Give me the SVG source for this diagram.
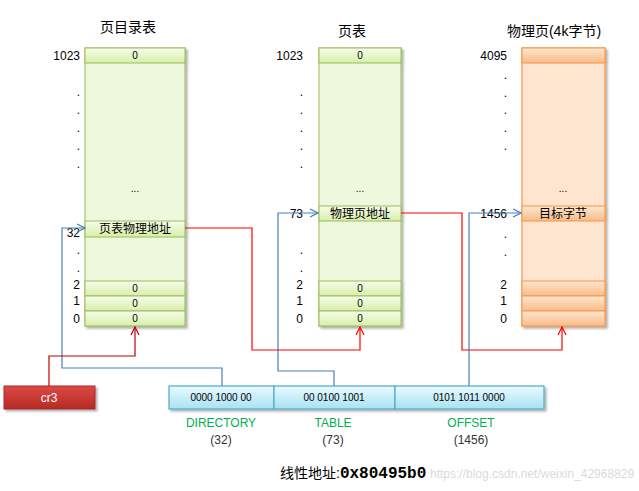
<svg xmlns="http://www.w3.org/2000/svg" width="639" height="491" viewBox="0 0 639 491">
<style>
text{font-family:"Liberation Sans","Noto Sans CJK SC",sans-serif;fill:#000}
.t{font-size:14px;text-anchor:middle}
.n{font-size:12px;text-anchor:end}
.c{font-size:10px;text-anchor:middle}
.z{font-size:12px;text-anchor:middle}
.g{font-size:12px;text-anchor:middle;fill:#00b050}
.p{font-size:12px;text-anchor:middle;fill:#333}
.gb{fill:#eef8dc;stroke:#9bbb59;stroke-width:1}
.gc{fill:url(#gg);stroke:#9bbb59;stroke-width:1}
.ob{fill:#fde5cf;stroke:#f79646;stroke-width:1.2}
.oc{fill:url(#og);stroke:#f79646;stroke-width:1}
.bc{fill:url(#bg);stroke:#4bacc6;stroke-width:1.2}
.bl{fill:none;stroke:#4a7ebb;stroke-width:1.2}
.rl{fill:none;stroke:#ff0000;stroke-width:1.2}
</style>
<defs>
<linearGradient id="gg" x1="0" y1="0" x2="0" y2="1"><stop offset="0" stop-color="#f7fcec"/><stop offset="1" stop-color="#d7efa9"/></linearGradient>
<linearGradient id="og" x1="0" y1="0" x2="0" y2="1"><stop offset="0" stop-color="#fde7d2"/><stop offset="1" stop-color="#f9bb87"/></linearGradient>
<linearGradient id="bg" x1="0" y1="0" x2="0" y2="1"><stop offset="0" stop-color="#eafaff"/><stop offset="1" stop-color="#a8e2f2"/></linearGradient>
<linearGradient id="rg" x1="0" y1="0" x2="0" y2="1"><stop offset="0" stop-color="#dc4a44"/><stop offset="1" stop-color="#b52a25"/></linearGradient>
<filter id="sh" x="-10%" y="-10%" width="130%" height="130%"><feDropShadow dx="2" dy="2" stdDeviation="1.2" flood-color="#000" flood-opacity="0.3"/></filter>
<marker id="ab" markerWidth="10" markerHeight="10" refX="9" refY="5" orient="auto" markerUnits="userSpaceOnUse"><path d="M1,1 L9,5 L1,9" fill="none" stroke="#4a7ebb" stroke-width="1.2"/></marker>
<marker id="ar" markerWidth="10" markerHeight="10" refX="9" refY="5" orient="auto" markerUnits="userSpaceOnUse"><path d="M1,1 L9,5 L1,9" fill="none" stroke="#ff0000" stroke-width="1.2"/></marker>
<marker id="ad" markerWidth="10" markerHeight="10" refX="9" refY="5" orient="auto" markerUnits="userSpaceOnUse"><path d="M1,1 L9,5 L1,9" fill="none" stroke="#c00000" stroke-width="1.2"/></marker>
</defs>
<rect width="639" height="491" fill="#fff"/>

<g id="page-directory">
<text class="t" x="128" y="32">页目录表</text>
<g filter="url(#sh)">
<rect class="gb" x="85" y="48" width="100" height="278"/>
<rect class="gc" x="85" y="48" width="100" height="15"/>
<rect class="gc" x="85" y="221" width="100" height="16"/>
<rect class="gc" x="85" y="281" width="100" height="15"/>
<rect class="gc" x="85" y="296" width="100" height="15"/>
<rect class="gc" x="85" y="311" width="100" height="15"/>
</g>
<text class="c" x="135" y="59">0</text>
<text class="c" x="135" y="192">...</text>
<text class="z" x="135" y="233">页表物理地址</text>
<text class="c" x="135" y="292">0</text>
<text class="c" x="135" y="307">0</text>
<text class="c" x="135" y="322">0</text>
<text class="n" x="80" y="60">1023</text>
<text class="n" x="80" y="96">.</text>
<text class="n" x="80" y="114">.</text>
<text class="n" x="80" y="132">.</text>
<text class="n" x="80" y="150">.</text>
<text class="n" x="80" y="168">.</text>
<text class="n" x="80" y="237">32</text>
<text class="n" x="80" y="254">.</text>
<text class="n" x="80" y="272">.</text>
<text class="n" x="80" y="289">2</text>
<text class="n" x="80" y="305">1</text>
<text class="n" x="80" y="323">0</text>
</g>

<g id="page-table">
<text class="t" x="352" y="36">页表</text>
<g filter="url(#sh)">
<rect class="gb" x="319" y="48" width="82" height="278"/>
<rect class="gc" x="319" y="48" width="82" height="15"/>
<rect class="gc" x="319" y="206" width="82" height="15"/>
<rect class="gc" x="319" y="281" width="82" height="15"/>
<rect class="gc" x="319" y="296" width="82" height="15"/>
<rect class="gc" x="319" y="311" width="82" height="15"/>
</g>
<text class="c" x="360" y="59">0</text>
<text class="c" x="360" y="192">...</text>
<text class="z" x="360" y="218">物理页地址</text>
<text class="c" x="360" y="292">0</text>
<text class="c" x="360" y="307">0</text>
<text class="c" x="360" y="322">0</text>
<text class="n" x="303" y="60">1023</text>
<text class="n" x="303" y="96">.</text>
<text class="n" x="303" y="114">.</text>
<text class="n" x="303" y="132">.</text>
<text class="n" x="303" y="150">.</text>
<text class="n" x="303" y="168">.</text>
<text class="n" x="303" y="218">73</text>
<text class="n" x="303" y="254">.</text>
<text class="n" x="303" y="272">.</text>
<text class="n" x="303" y="289">2</text>
<text class="n" x="303" y="305">1</text>
<text class="n" x="303" y="323">0</text>
</g>

<g id="physical-page">
<text class="t" x="554" y="36">物理页(4k字节)</text>
<g filter="url(#sh)">
<rect class="ob" x="522" y="48" width="83" height="278"/>
<rect class="oc" x="522" y="48" width="83" height="15"/>
<rect class="oc" x="522" y="206" width="83" height="15"/>
<rect class="oc" x="522" y="281" width="83" height="15"/>
<rect class="oc" x="522" y="296" width="83" height="15"/>
<rect class="oc" x="522" y="311" width="83" height="15"/>
</g>
<text class="c" x="563" y="192">...</text>
<text class="z" x="563" y="218">目标字节</text>
<text class="n" x="507" y="60">4095</text>
<text class="n" x="507" y="79">.</text>
<text class="n" x="507" y="97">.</text>
<text class="n" x="507" y="114">.</text>
<text class="n" x="507" y="132">.</text>
<text class="n" x="507" y="150">.</text>
<text class="n" x="507" y="218">1456</text>
<text class="n" x="507" y="238">.</text>
<text class="n" x="507" y="256">.</text>
<text class="n" x="507" y="289">2</text>
<text class="n" x="507" y="305">1</text>
<text class="n" x="507" y="323">0</text>
</g>

<g id="cr3">
<rect x="4" y="386" width="91" height="23" fill="url(#rg)" stroke="#a52a2a" filter="url(#sh)"/>
<text x="49" y="402" style="font-size:12px;text-anchor:middle;fill:#fff">cr3</text>
</g>

<g id="linear-address">
<g filter="url(#sh)">
<rect class="bc" x="169" y="386" width="105" height="23"/>
<rect class="bc" x="274" y="386" width="121" height="23"/>
<rect class="bc" x="395" y="386" width="149" height="23"/>
</g>
<text class="c" x="221" y="401">0000 1000 00</text>
<text class="c" x="334" y="401">00 0100 1001</text>
<text class="c" x="469" y="401">0101 1011 0000</text>
<text class="g" x="221" y="427">DIRECTORY</text>
<text class="p" x="221" y="444">(32)</text>
<text class="g" x="333" y="427">TABLE</text>
<text class="p" x="333" y="444">(73)</text>
<text class="g" x="471" y="427">OFFSET</text>
<text class="p" x="471" y="444">(1456)</text>
<text x="280" y="478" style="font-size:14px">线性地址:<tspan style="font-family:'Liberation Mono',monospace;font-size:16px;font-weight:bold">0x80495b0</tspan></text>
<text x="430" y="478" style="font-size:12px;fill:#c8c8c8;fill-opacity:0.7">https://blog.csdn.net/weixin_42968829</text>
</g>

<g id="connectors">
<path class="bl" d="M222,386 V368 H62 V228 H85" marker-end="url(#ab)"/>
<path class="bl" d="M334,386 V371 H278 V213 H318" marker-end="url(#ab)"/>
<path class="bl" d="M469,386 V213 H521" marker-end="url(#ab)"/>
<path d="M49,386 V356 H135 V327" fill="none" stroke="#c00000" stroke-width="1.2" marker-end="url(#ad)"/>
<path class="rl" d="M185,228 H252 V350 H360 V327" marker-end="url(#ar)"/>
<path class="rl" d="M401,213 H462 V350 H562 V327" marker-end="url(#ar)"/>
</g>
</svg>
